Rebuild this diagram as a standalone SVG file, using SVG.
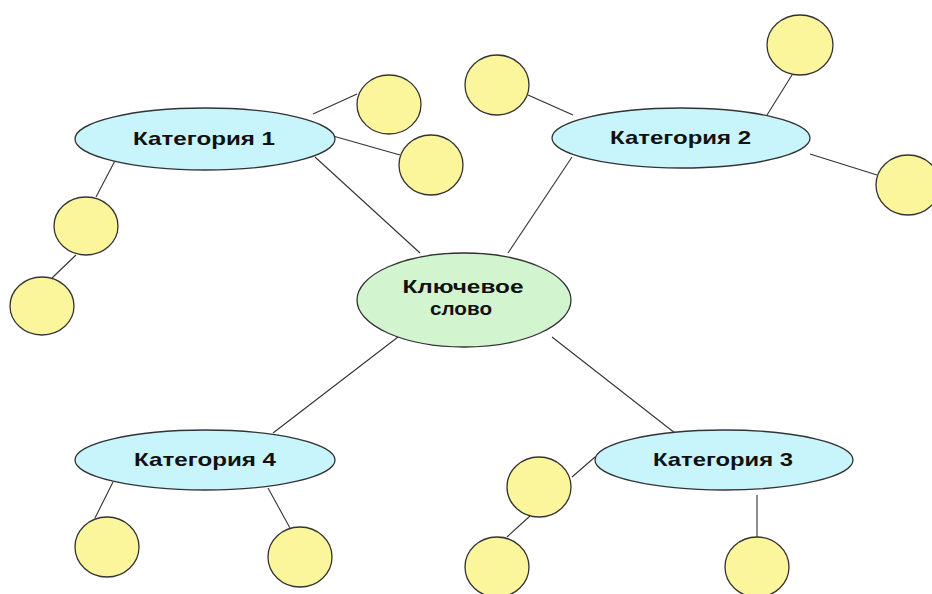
<svg xmlns="http://www.w3.org/2000/svg" width="932" height="594" viewBox="0 0 932 594">
<style>
.cat{fill:#c8f4fb;stroke:#333;stroke-width:1.3}
.key{fill:#d2f5d0;stroke:#333;stroke-width:1.3}
.leaf{fill:#fbf59c;stroke:#333;stroke-width:1.3}
.lbl{font-family:"Liberation Sans",Arial,sans-serif;font-weight:bold;font-size:19px;fill:#111}
#connectors line{stroke:#333;stroke-width:1.1}
</style>
<rect width="932" height="594" fill="#fff"/>
<g id="connectors">
<line x1="315" y1="157" x2="420" y2="253"/>
<line x1="572" y1="157" x2="508" y2="253"/>
<line x1="398" y1="337" x2="273" y2="433"/>
<line x1="552" y1="337" x2="680" y2="437"/>
<line x1="313" y1="114" x2="357" y2="94"/>
<line x1="333" y1="136" x2="400" y2="155"/>
<line x1="118" y1="155" x2="96" y2="197"/>
<line x1="76" y1="255" x2="52" y2="278"/>
<line x1="528" y1="95" x2="573" y2="115"/>
<line x1="792" y1="75" x2="767" y2="115"/>
<line x1="810" y1="154" x2="877" y2="175"/>
<line x1="113" y1="482" x2="95" y2="518"/>
<line x1="268" y1="488" x2="290" y2="528"/>
<line x1="572" y1="477" x2="595" y2="457"/>
<line x1="530" y1="516" x2="507" y2="537"/>
<line x1="757" y1="495" x2="757" y2="537"/>
</g>
<g id="key">
<ellipse class="key" cx="464" cy="300" rx="107" ry="47"/>
<text class="lbl" x="463" y="293" text-anchor="middle" textLength="121" lengthAdjust="spacingAndGlyphs">Ключевое</text>
<text class="lbl" x="461" y="315" text-anchor="middle" textLength="62" lengthAdjust="spacingAndGlyphs">слово</text>
</g>
<g id="cat1">
<ellipse class="cat" cx="205" cy="139" rx="130" ry="31"/>
<text class="lbl" x="133" y="144.5" textLength="142" lengthAdjust="spacingAndGlyphs">Категория 1</text>
</g>
<g id="cat2">
<ellipse class="cat" cx="681" cy="138" rx="129" ry="30"/>
<text class="lbl" x="610" y="143.5" textLength="141" lengthAdjust="spacingAndGlyphs">Категория 2</text>
</g>
<g id="cat3">
<ellipse class="cat" cx="724" cy="460" rx="129" ry="30"/>
<text class="lbl" x="653" y="465.5" textLength="140" lengthAdjust="spacingAndGlyphs">Категория 3</text>
</g>
<g id="cat4">
<ellipse class="cat" cx="205" cy="460" rx="130" ry="30"/>
<text class="lbl" x="134" y="465.5" textLength="142" lengthAdjust="spacingAndGlyphs">Категория 4</text>
</g>
<g id="leaf1a"><ellipse class="leaf" cx="389" cy="104.5" rx="32" ry="29.5"/></g>
<g id="leaf1b"><ellipse class="leaf" cx="431" cy="165" rx="32" ry="30"/></g>
<g id="leaf1c"><ellipse class="leaf" cx="86" cy="226" rx="32" ry="29"/></g>
<g id="leaf1d"><ellipse class="leaf" cx="42" cy="306" rx="32" ry="29"/></g>
<g id="leaf2a"><ellipse class="leaf" cx="497" cy="85" rx="32" ry="30"/></g>
<g id="leaf2b"><ellipse class="leaf" cx="800" cy="45" rx="33" ry="30"/></g>
<g id="leaf2c"><ellipse class="leaf" cx="908" cy="185" rx="32" ry="30"/></g>
<g id="leaf3a"><ellipse class="leaf" cx="539" cy="487" rx="32" ry="30"/></g>
<g id="leaf3b"><ellipse class="leaf" cx="497" cy="567" rx="32" ry="30"/></g>
<g id="leaf3c"><ellipse class="leaf" cx="757" cy="567" rx="32" ry="30"/></g>
<g id="leaf4a"><ellipse class="leaf" cx="107" cy="547" rx="32" ry="30"/></g>
<g id="leaf4b"><ellipse class="leaf" cx="300" cy="557" rx="32" ry="30"/></g>
</svg>
